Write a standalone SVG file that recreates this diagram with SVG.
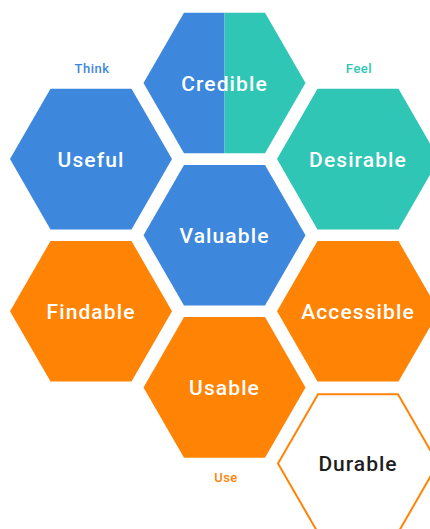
<svg xmlns="http://www.w3.org/2000/svg" xmlns:xlink="http://www.w3.org/1999/xlink" width="430" height="529" viewBox="0 0 430 529">
  <style>
    .blue { fill: #3d87dd; }
    .teal { fill: #2fc6b5; }
    .orange { fill: #ff8406; }
    .outline { fill: #ffffff; stroke: #ff8406; stroke-width: 2; }
    .lbl { font-family: Roboto, "Liberation Sans", sans-serif; font-size: 21px; font-weight: 500; fill: #ffffff; text-anchor: middle; letter-spacing: 1.1px; }
    .dark { fill: #1e1e1e; font-weight: 500; letter-spacing: 1px; }
    .cap { font-family: Roboto, "Liberation Sans", sans-serif; font-size: 13px; font-weight: 500; text-anchor: middle; letter-spacing: 0.5px; }
  </style>
  <defs>
    <polygon id="hex" points="-81,0 -40.5,-70.3 40.5,-70.3 81,0 40.5,70.3 -40.5,70.3"/>
    <polygon id="hexin" points="-80,0 -40,-69.3 40,-69.3 80,0 40,69.3 -40,69.3"/>
  </defs>
  <rect width="430" height="529" fill="#ffffff"/>
  <g id="labels">
    <text class="cap" x="92" y="73" fill="#3d87dd">Think</text>
    <text class="cap" x="359" y="73" fill="#2fc6b5">Feel</text>
    <text class="cap" x="226" y="482" fill="#ff8406">Use</text>
  </g>
  <g id="credible">
    <polygon class="blue" points="143.5,83 184,12.7 224.5,12.7 224.5,153.3 184,153.3"/>
    <polygon class="teal" points="224.5,12.7 265,12.7 305.5,83 265,153.3 224.5,153.3"/>
    <text class="lbl" x="224.5" y="91">Credible</text>
  </g>
  <g id="useful">
    <use xlink:href="#hex" class="blue" x="91" y="159.1"/>
    <text class="lbl" x="91" y="167">Useful</text>
  </g>
  <g id="desirable">
    <use xlink:href="#hex" class="teal" x="358" y="159.1"/>
    <text class="lbl" x="358" y="167">Desirable</text>
  </g>
  <g id="valuable">
    <use xlink:href="#hex" class="blue" x="224.5" y="235.2"/>
    <text class="lbl" x="224.5" y="243">Valuable</text>
  </g>
  <g id="findable">
    <use xlink:href="#hex" class="orange" x="91" y="311.3"/>
    <text class="lbl" x="91" y="319">Findable</text>
  </g>
  <g id="accessible">
    <use xlink:href="#hex" class="orange" x="358" y="311.3"/>
    <text class="lbl" x="358" y="319">Accessible</text>
  </g>
  <g id="usable">
    <use xlink:href="#hex" class="orange" x="224.5" y="387.4"/>
    <text class="lbl" x="224.5" y="395">Usable</text>
  </g>
  <g id="durable">
    <use xlink:href="#hexin" class="outline" x="358" y="463.5"/>
    <text class="lbl dark" x="358" y="471">Durable</text>
  </g>
  <g id="connectors"></g>
</svg>
